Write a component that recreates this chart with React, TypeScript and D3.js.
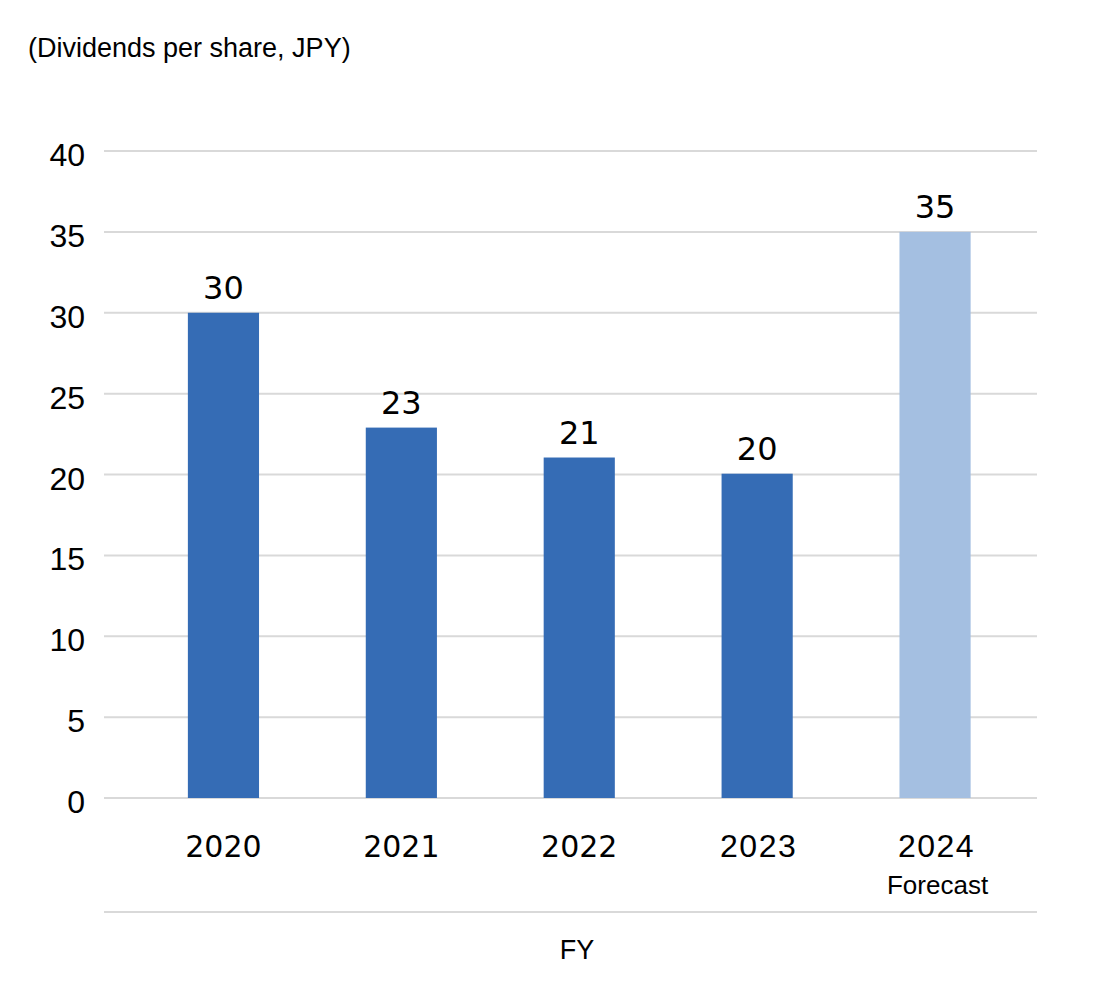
import React from "react";
import * as d3 from "d3";

const categories = ["2020", "2021", "2022", "2023", "2024"];
const subLabels = ["", "", "", "", "Forecast"];
const values = [30, 22.9, 21.05, 20.05, 35];
const valueLabels = ["30", "23", "21", "20", "35"];
const isForecast = [false, false, false, false, true];
const yTicks = [0, 5, 10, 15, 20, 25, 30, 35, 40];

const W = 1100;
const H = 992;

export default function App() {
  const y = d3.scaleLinear().domain([0, 40]).range([798, 151]);
  const x = d3
    .scaleBand<string>()
    .domain(categories)
    .range([134.5, 1024])
    .paddingInner(0.6)
    .paddingOuter(0.3);
  const gridX0 = 104;
  const gridX1 = 1037;
  const arial = "Arial, 'Liberation Sans', sans-serif";
  const dejavu = "Verdana, 'DejaVu Sans', sans-serif";

  return (
    <svg
      width={W}
      height={H}
      style={{ position: "absolute", left: 0, top: 0, background: "#fff" }}
    >
      <text x={28} y={57} fontFamily={arial} fontSize={27} fill="#000">
        (Dividends per share, JPY)
      </text>
      {yTicks.map((t) => (
        <g key={t}>
          <line
            x1={gridX0}
            x2={gridX1}
            y1={y(t)}
            y2={y(t)}
            stroke="#d9d9d9"
            strokeWidth={2}
          />
          <text
            x={85}
            y={y(t) + 15}
            textAnchor="end"
            fontFamily={arial}
            fontSize={32}
            fill="#000"
          >
            {t}
          </text>
        </g>
      ))}
      {categories.map((c, i) => {
        const bx = x(c) as number;
        const bw = x.bandwidth();
        const cx = bx + bw / 2;
        return (
          <g key={c}>
            <rect
              x={bx}
              y={y(values[i])}
              width={bw}
              height={y(0) - y(values[i])}
              fill={isForecast[i] ? "#A4BFE1" : "#356CB5"}
            />
            <text
              x={cx}
              y={y(values[i]) - 13.5}
              textAnchor="middle"
              fontFamily={dejavu}
              fontSize={32}
              fill="#000"
            >
              {valueLabels[i]}
            </text>
            <text
              x={cx + (i >= 3 ? 1.5 : 0)}
              y={857}
              textAnchor="middle"
              fontFamily={i >= 3 ? arial : dejavu}
              fontSize={i >= 3 ? 32 : 30}
              letterSpacing={i >= 3 ? 1.5 : 0}
              fill="#000"
            >
              {c}
            </text>
            {subLabels[i] && (
              <text
                x={cx + 2.5}
                y={894}
                textAnchor="middle"
                fontFamily={arial}
                fontSize={26}
                fill="#000"
              >
                {subLabels[i]}
              </text>
            )}
          </g>
        );
      })}
      <line
        x1={gridX0}
        x2={gridX1}
        y1={912}
        y2={912}
        stroke="#d9d9d9"
        strokeWidth={2}
      />
      <text
        x={577}
        y={959}
        textAnchor="middle"
        fontFamily={arial}
        fontSize={27}
        fill="#000"
      >
        FY
      </text>
    </svg>
  );
}
